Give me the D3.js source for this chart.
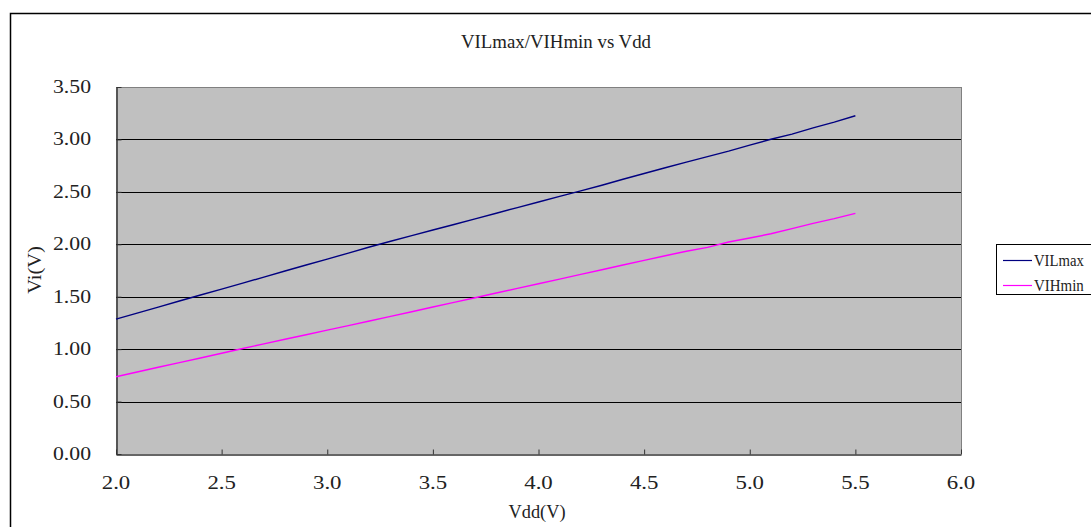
<!DOCTYPE html>
<html><head><meta charset="utf-8">
<script src="https://cdn.jsdelivr.net/npm/d3@7"></script>
<style>body{margin:0;background:#fff;overflow:hidden}svg{display:block}</style>
</head><body>
<svg id="c" width="1091" height="527"></svg>
<script>
const vdd = [2.0,2.1,2.2,2.3,2.4,2.5,2.6,2.7,2.8,2.9,3.0,3.1,3.2,3.3,3.4,3.5,3.6,3.7,3.8,3.9,4.0,4.1,4.2,4.3,4.4,4.5,4.6,4.7,4.8,4.9,5.0,5.1,5.2,5.3,5.4,5.5];
const vilmax = [1.287,1.344,1.401,1.459,1.516,1.573,1.630,1.687,1.745,1.802,1.859,1.916,1.974,2.029,2.082,2.136,2.189,2.243,2.296,2.350,2.403,2.457,2.510,2.563,2.620,2.675,2.730,2.783,2.836,2.888,2.945,3.002,3.050,3.110,3.165,3.226];
const vihmin = [0.737,0.782,0.827,0.871,0.916,0.961,1.006,1.050,1.094,1.137,1.181,1.224,1.268,1.313,1.357,1.402,1.446,1.490,1.535,1.579,1.624,1.668,1.713,1.757,1.802,1.846,1.891,1.933,1.970,2.022,2.060,2.100,2.150,2.200,2.245,2.295];
const xTicks = [2.0,2.5,3.0,3.5,4.0,4.5,5.0,5.5,6.0];
const yTicks = [0,0.5,1.0,1.5,2.0,2.5,3.0,3.5];
const seriesNames = ["VILmax","VIHmin"];
const seriesColors = ["#000080","#FF00FF"];

const svg = d3.select("#c");
const FONT = "'Liberation Serif','DejaVu Serif',serif";
function txt(g, s, x, y, anchor, cw, size){
  cw = cw || 9.5;
  return g.append("text").attr("x",x).attr("y",y).attr("font-family",FONT)
    .attr("font-size",size||19).attr("fill","#222").attr("text-anchor",anchor||"start")
    .attr("textLength", s.length*cw).attr("lengthAdjust","spacingAndGlyphs").text(s);
}
// outer border
svg.append("rect").attr("x",10.5).attr("y",13.5).attr("width",1200).attr("height",600)
  .attr("fill","#fff").attr("stroke","#000").attr("stroke-width",1.5);

const L=116,T=87,R=961,B=454;
const x = d3.scaleLinear().domain([2,6]).range([L,R]);
const y = d3.scaleLinear().domain([0,3.5]).range([B,T]);

svg.append("rect").attr("x",L).attr("y",T).attr("width",R-L).attr("height",B-T).attr("fill","#C0C0C0");
// gridlines
svg.append("g").selectAll("line").data(yTicks.slice(1)).join("line")
  .attr("x1",L).attr("x2",R).attr("y1",d=>Math.round(y(d))+0.5).attr("y2",d=>Math.round(y(d))+0.5)
  .attr("stroke",d=>d===3.5?"#808080":"#000").attr("stroke-width",1);
// right border
svg.append("line").attr("x1",R+0.5).attr("x2",R+0.5).attr("y1",T).attr("y2",B).attr("stroke","#808080");

// axes
const gx = svg.append("g").attr("transform",`translate(0,${B+0.5})`)
  .call(d3.axisBottom(x).tickValues(xTicks).tickSize(-5).tickSizeOuter(0).tickFormat(()=>""));
gx.select(".domain").attr("stroke","#333").attr("stroke-width",1.5);
gx.selectAll(".tick line").attr("stroke","#333");
const gy = svg.append("g").attr("transform",`translate(${L+0.5},0)`)
  .call(d3.axisLeft(y).tickValues(yTicks).tickSize(-5).tickSizeOuter(0).tickFormat(()=>""));
gy.select(".domain").attr("stroke","#333").attr("stroke-width",1.5);
gy.selectAll(".tick line").attr("stroke","#333");

// tick labels
const lab = svg.append("g");
xTicks.forEach(v=>{ txt(lab, v.toFixed(1), x(v), 489, "middle"); });
yTicks.forEach(v=>{ txt(lab, v.toFixed(2), 91, y(v)+6, "end"); });

// lines
const line = d3.line().x((d,i)=>x(vdd[i])).y(d=>y(d));
[vilmax, vihmin].forEach((s,k)=>{
  svg.append("path").attr("d",line(s)).attr("fill","none").attr("stroke",seriesColors[k]).attr("stroke-width",1.4);
});

// titles
txt(svg, "VILmax/VIHmin vs Vdd", 556, 48, "middle");
txt(svg, "Vdd(V)", 537, 518, "middle");
const yl = svg.append("g").attr("transform","translate(41,270) rotate(-90)");
txt(yl, "Vi(V)", 0, 0, "middle");

// legend
const lg = svg.append("g");
lg.append("rect").attr("x",996.5).attr("y",244.5).attr("width",200).attr("height",50)
  .attr("fill","#fff").attr("stroke","#000").attr("stroke-width",1);
seriesNames.forEach((n,k)=>{
  const yy = 260 + k*25;
  lg.append("line").attr("x1",1003).attr("x2",1032).attr("y1",yy+0.5).attr("y2",yy+0.5)
    .attr("stroke",seriesColors[k]).attr("stroke-width",1.2);
  txt(lg, n, 1034, yy+6, "start", 8.3, 17);
});
</script>
</body></html>
